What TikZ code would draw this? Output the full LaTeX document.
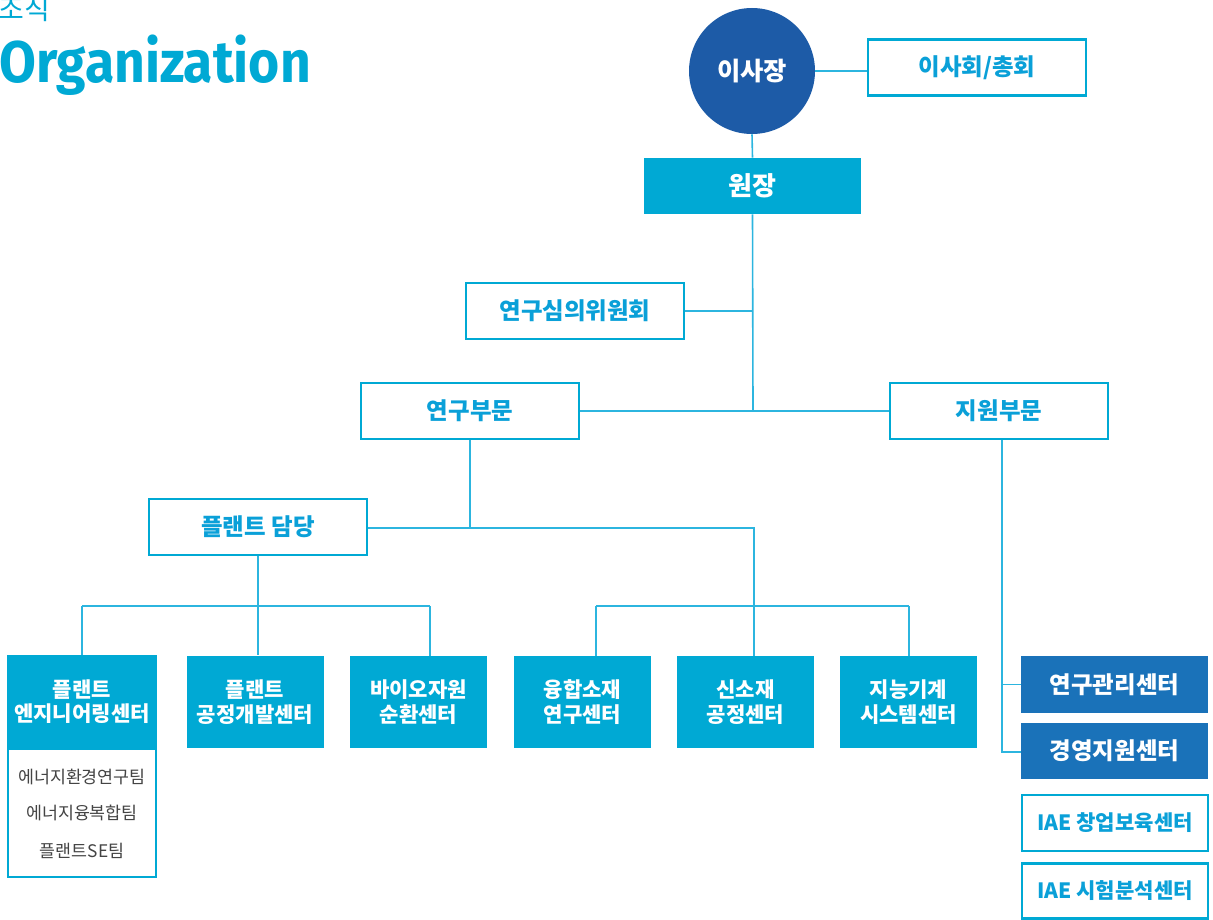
\documentclass[tikz,border=0pt]{standalone}
\usepackage{fontspec}
\setmainfont{Noto Sans CJK KR}
\newfontfamily\titlefont{Fira Sans}
\definecolor{cy}{HTML}{00A9D4}
\definecolor{cyline}{HTML}{2CB5DF}
\definecolor{cytext}{HTML}{0AA0D8}
\definecolor{navy}{HTML}{1D5BA7}
\definecolor{dblue}{HTML}{1A72B9}
\definecolor{gtext}{HTML}{444444}
\begin{document}
\begin{tikzpicture}[x=0.75pt,y=-0.75pt,
  conn/.style={draw=cyline,line width=1.2pt},
  wbox/.style={draw=cy,line width=2.2pt,fill=white,inner sep=0pt,text=cytext,font=\fontsize{17.6pt}{20pt}\selectfont\bfseries},
  fbox/.style={fill=cy,draw=none,inner sep=0pt,text=white,align=center,font=\fontsize{15.8pt}{18.5pt}\selectfont\bfseries},
  dbox/.style={fill=dblue,draw=none,inner sep=0pt,text=white,font=\fontsize{17.6pt}{20pt}\selectfont\bfseries},
  bigw/.style={minimum width=163.5pt,minimum height=42pt},
  cell/.style={minimum width=102.75pt,minimum height=69pt},
  team/.style={text=gtext,font=\fontsize{13pt}{15pt}\selectfont}]
\useasboundingbox (0,0) rectangle (1213,920);
% titles
\node[anchor=base west,inner sep=0pt,text=cy,font=\fontsize{21pt}{22pt}\selectfont] (t1) at (-2,20) {조직};
\node[anchor=base west,inner sep=0pt,text=cy,font=\titlefont\fontsize{44pt}{46pt}\selectfont\bfseries] (t2) at (-1,83) {\scalebox{0.91}[1]{Organization}};
% top
\node[circle,fill=navy,minimum size=94.5pt,inner sep=0pt,text=white,font=\fontsize{19pt}{22pt}\selectfont\bfseries] (ceo) at (752,71) {이사장};
\node[wbox,bigw] (board) at (977,67.5) {이사회/총회};
\node[fbox,font=\fontsize{19.5pt}{22pt}\selectfont\bfseries,minimum width=162.75pt,minimum height=42pt] (pres) at (752.5,186) {원장};
\node[wbox,bigw] (comm) at (575,311) {연구심의위원회};
\node[wbox,bigw] (res) at (470,411) {연구부문};
\node[wbox,bigw] (sup) at (999,411) {지원부문};
\node[wbox,bigw] (plant) at (258,527) {플랜트 담당};
% centers
\node[fbox,minimum width=112.5pt,minimum height=69.75pt] (c1) at (82,701.5) {플랜트\\엔지니어링센터};
\node[draw=cy,line width=1.5pt,fill=white,minimum width=111.5pt,minimum height=96pt,inner sep=0pt,anchor=north] (c1t) at (82,748) {};
\node[team] (tm1) at (82,777) {에너지환경연구팀};
\node[team] (tm2) at (82,813) {에너지융복합팀};
\node[team] (tm3) at (82,851) {플랜트SE팀};
\node[fbox,cell] (c2) at (255,702) {플랜트\\공정개발센터};
\node[fbox,cell] (c3) at (418.5,702) {바이오자원\\순환센터};
\node[fbox,cell] (c4) at (582.5,702) {융합소재\\연구센터};
\node[fbox,cell] (c5) at (745.5,702) {신소재\\공정센터};
\node[fbox,cell] (c6) at (908.5,702) {지능기계\\시스템센터};
\node[dbox,minimum width=140.25pt,minimum height=42.75pt] (s1) at (1114.5,684.5) {연구관리센터};
\node[dbox,minimum width=140.25pt,minimum height=42pt] (s2) at (1114.5,751) {경영지원센터};
\node[wbox,font=\fontsize{15.8pt}{18pt}\selectfont\bfseries,minimum width=139.5pt,minimum height=42pt] (s3) at (1115,823) {IAE 창업보육센터};
\node[wbox,font=\fontsize{15.8pt}{18pt}\selectfont\bfseries,minimum width=139.5pt,minimum height=41pt] (s4) at (1115,891) {IAE 시험분석센터};
% coordinates
\coordinate (j1) at (753,410);
\coordinate (j2) at (470,528);
\coordinate (j3) at (754,528);
\coordinate (b1) at (258,606);
\coordinate (sv) at (1002,752);
% connectors
\draw[conn] (ceo.east) -- (ceo.east -| board.west);
\draw[conn] (ceo.south) -- (pres.north);
\draw[conn] (pres.south) -- (j1);
\draw[conn] (comm.east) -- (comm.east -| j1);
\draw[conn] (res.east) -- (sup.west);
\draw[conn] (res.south) -- (j2);
\draw[conn] (plant.east |- j2) -- (j3) -- (j3 |- c5.north);
\draw[conn] (plant.south) -- (b1 |- c1.north);
\draw[conn] (82,606) coordinate (l1) -- (430,606) coordinate (l3);
\draw[conn] (l1) -- (l1 |- c1.north);
\draw[conn] (l3) -- (l3 |- c3.north);
\draw[conn] (596,606) coordinate (r1) -- (909,606) coordinate (r3);
\draw[conn] (r1) -- (r1 |- c4.north);
\draw[conn] (r3) -- (r3 |- c6.north);
\draw[conn] (sup.south -| sv) -- (sv) -- (sv -| s2.west);
\draw[conn] (sv |- s1.west) -- (s1.west);
\end{tikzpicture}
\end{document}
